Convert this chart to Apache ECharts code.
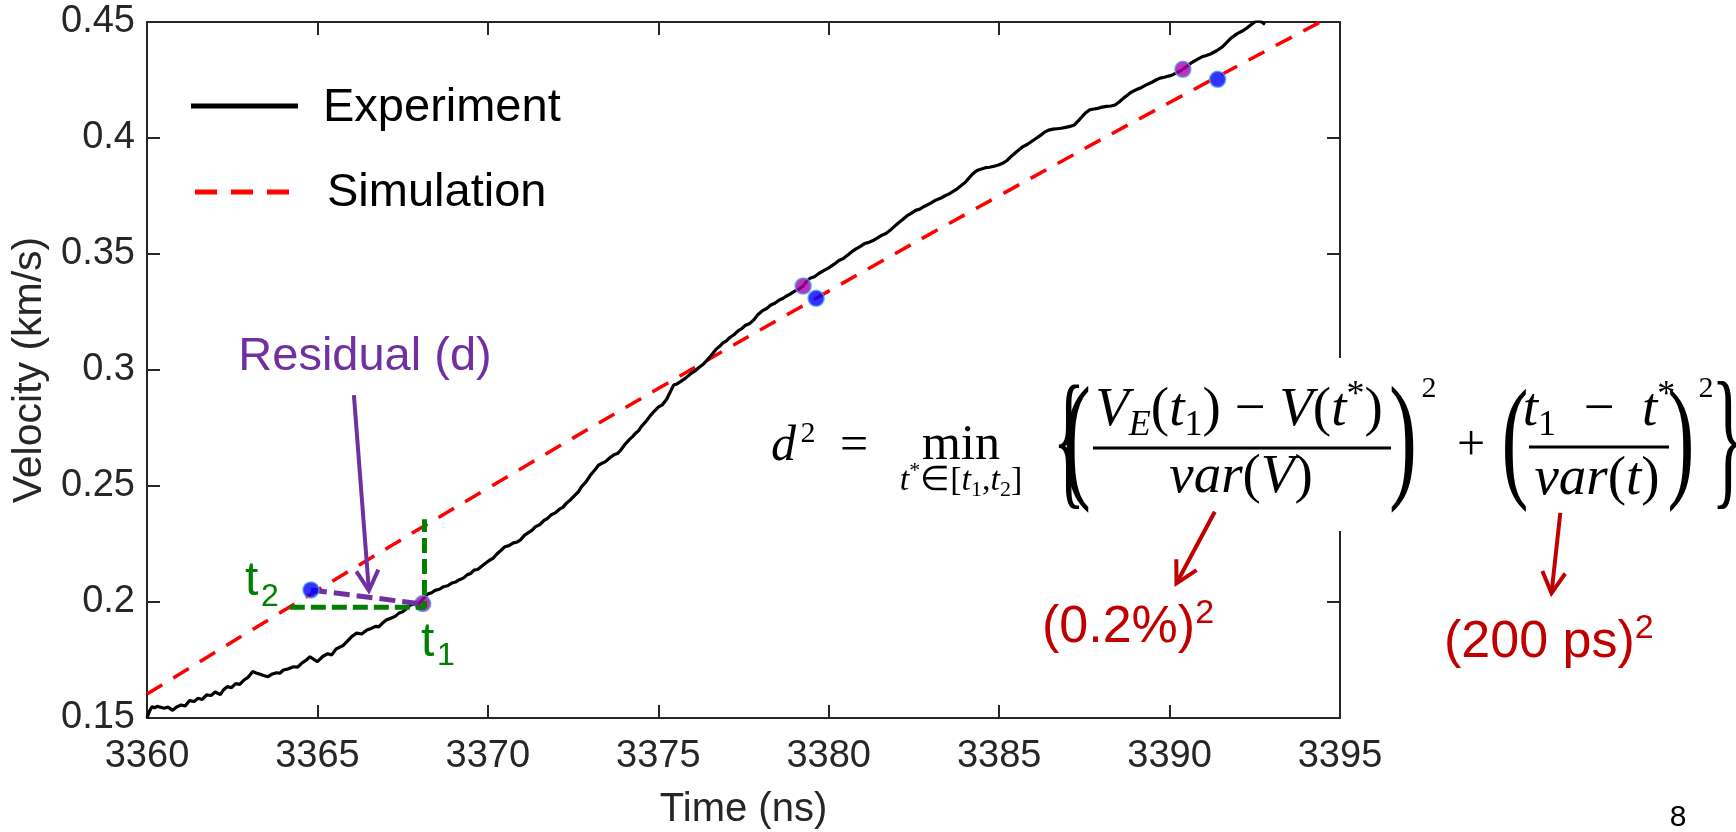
<!DOCTYPE html>
<html><head><meta charset="utf-8">
<script src="https://cdn.jsdelivr.net/npm/echarts@6/dist/echarts.min.js"></script>
<style>html,body{margin:0;padding:0;background:#fff}#c{width:1736px;height:832px}</style>
</head><body><div id="c"></div>
<script>
// ---------------- data ----------------
const xTickRange = [3360, 3395, 5];
const yTickRange = [0.15, 0.45, 0.05];
const experiment = [
[3360.00,0.1500],[3360.08,0.1532],[3360.15,0.1549],[3360.22,0.1544],[3360.30,0.1550],[3360.40,0.1546],[3360.50,0.1542],[3360.62,0.1547],[3360.75,0.1533],[3360.88,0.1548],[3361.00,0.1556],[3361.12,0.1552],[3361.25,0.1575],[3361.38,0.1571],[3361.50,0.1585],[3361.62,0.1580],[3361.75,0.1600],[3361.88,0.1597],[3362.00,0.1612],[3362.15,0.1601],[3362.25,0.1622],[3362.35,0.1635],[3362.48,0.1631],[3362.60,0.1648],[3362.72,0.1645],[3362.85,0.1664],[3362.97,0.1676],[3363.10,0.1700],[3363.20,0.1694],[3363.30,0.1690],[3363.42,0.1683],[3363.55,0.1678],[3363.68,0.1690],[3363.80,0.1695],[3363.90,0.1693],[3364.00,0.1707],[3364.15,0.1712],[3364.30,0.1721],[3364.42,0.1719],[3364.55,0.1738],[3364.66,0.1748],[3364.78,0.1764],[3364.90,0.1752],[3365.00,0.1743],[3365.15,0.1765],[3365.30,0.1777],[3365.42,0.1772],[3365.55,0.1798],[3365.65,0.1805],[3365.75,0.1812],[3365.88,0.1831],[3366.00,0.1850],[3366.15,0.1866],[3366.30,0.1862],[3366.45,0.1879],[3366.58,0.1886],[3366.70,0.1895],[3366.80,0.1893],[3366.90,0.1908],[3367.02,0.1922],[3367.15,0.1930],[3367.28,0.1938],[3367.40,0.1953],[3367.50,0.1958],[3367.60,0.1970],[3367.70,0.1984],[3367.80,0.1992],[3367.90,0.1990],[3368.00,0.1996],[3368.12,0.2018],[3368.25,0.2035],[3368.35,0.2040],[3368.45,0.2050],[3368.58,0.2055],[3368.70,0.2066],[3368.82,0.2070],[3368.95,0.2082],[3369.05,0.2086],[3369.15,0.2095],[3369.28,0.2103],[3369.40,0.2118],[3369.50,0.2123],[3369.60,0.2138],[3369.70,0.2140],[3369.80,0.2152],[3369.92,0.2166],[3370.05,0.2180],[3370.15,0.2188],[3370.25,0.2205],[3370.38,0.2222],[3370.50,0.2238],[3370.62,0.2243],[3370.75,0.2255],[3370.85,0.2258],[3370.95,0.2267],[3371.08,0.2288],[3371.20,0.2300],[3371.30,0.2310],[3371.40,0.2325],[3371.52,0.2333],[3371.65,0.2352],[3371.75,0.2360],[3371.85,0.2375],[3371.98,0.2384],[3372.10,0.2400],[3372.20,0.2408],[3372.30,0.2425],[3372.42,0.2440],[3372.55,0.2460],[3372.65,0.2474],[3372.75,0.2497],[3372.88,0.2518],[3373.00,0.2545],[3373.12,0.2566],[3373.25,0.2590],[3373.35,0.2598],[3373.45,0.2605],[3373.58,0.2622],[3373.70,0.2635],[3373.80,0.2640],[3373.90,0.2655],[3374.02,0.2679],[3374.15,0.2700],[3374.25,0.2714],[3374.35,0.2730],[3374.42,0.2738],[3374.50,0.2756],[3374.62,0.2775],[3374.75,0.2800],[3374.88,0.2822],[3375.00,0.2840],[3375.12,0.2850],[3375.25,0.2875],[3375.35,0.2905],[3375.45,0.2935],[3375.55,0.2940],[3375.65,0.2950],[3375.80,0.2965],[3375.95,0.2984],[3376.08,0.2996],[3376.20,0.3012],[3376.32,0.3025],[3376.45,0.3045],[3376.58,0.3068],[3376.70,0.3090],[3376.80,0.3102],[3376.90,0.3117],[3377.00,0.3126],[3377.10,0.3140],[3377.22,0.3152],[3377.35,0.3170],[3377.45,0.3178],[3377.55,0.3192],[3377.68,0.3200],[3377.80,0.3216],[3377.92,0.3238],[3378.05,0.3255],[3378.18,0.3265],[3378.30,0.3280],[3378.42,0.3288],[3378.55,0.3302],[3378.65,0.3308],[3378.75,0.3318],[3378.88,0.3328],[3379.00,0.3340],[3379.12,0.3348],[3379.25,0.3362],[3379.35,0.3382],[3379.45,0.3395],[3379.58,0.3402],[3379.72,0.3417],[3379.85,0.3428],[3380.00,0.3440],[3380.15,0.3455],[3380.30,0.3472],[3380.42,0.3480],[3380.55,0.3495],[3380.68,0.3510],[3380.80,0.3522],[3380.92,0.3532],[3381.05,0.3545],[3381.18,0.3550],[3381.30,0.3558],[3381.42,0.3568],[3381.55,0.3580],[3381.68,0.3588],[3381.80,0.3602],[3381.92,0.3618],[3382.05,0.3635],[3382.18,0.3650],[3382.30,0.3665],[3382.42,0.3675],[3382.55,0.3688],[3382.68,0.3694],[3382.80,0.3705],[3382.98,0.3718],[3383.15,0.3733],[3383.28,0.3740],[3383.40,0.3750],[3383.52,0.3758],[3383.65,0.3770],[3383.78,0.3782],[3383.90,0.3797],[3384.00,0.3808],[3384.10,0.3825],[3384.22,0.3845],[3384.35,0.3860],[3384.48,0.3866],[3384.60,0.3872],[3384.72,0.3874],[3384.85,0.3878],[3384.98,0.3884],[3385.10,0.3891],[3385.22,0.3902],[3385.35,0.3920],[3385.52,0.3942],[3385.70,0.3963],[3385.82,0.3972],[3385.95,0.3985],[3386.08,0.3998],[3386.20,0.4010],[3386.32,0.4024],[3386.45,0.4034],[3386.58,0.4038],[3386.70,0.4040],[3386.82,0.4042],[3386.95,0.4046],[3387.08,0.4050],[3387.20,0.4056],[3387.32,0.4074],[3387.45,0.4095],[3387.55,0.4110],[3387.65,0.4121],[3387.78,0.4125],[3387.90,0.4128],[3388.02,0.4133],[3388.15,0.4136],[3388.28,0.4138],[3388.40,0.4142],[3388.52,0.4155],[3388.65,0.4172],[3388.75,0.4183],[3388.85,0.4195],[3388.95,0.4203],[3389.05,0.4210],[3389.18,0.4218],[3389.30,0.4228],[3389.45,0.4238],[3389.60,0.4250],[3389.72,0.4258],[3389.85,0.4262],[3389.95,0.4266],[3390.05,0.4270],[3390.22,0.4282],[3390.39,0.4296],[3390.52,0.4310],[3390.65,0.4325],[3390.80,0.4338],[3390.95,0.4350],[3391.08,0.4356],[3391.20,0.4362],[3391.38,0.4376],[3391.55,0.4393],[3391.68,0.4412],[3391.80,0.4430],[3391.90,0.4441],[3392.00,0.4451],[3392.12,0.4460],[3392.25,0.4472],[3392.35,0.4484],[3392.45,0.4495],[3392.52,0.4502],[3392.60,0.4508],[3392.70,0.4500],[3392.80,0.4490]
];
const simTime = [3360, 3365, 3370, 3375, 3380, 3385, 3390, 3395];
const simVel  = [0.1603, 0.2051, 0.2490, 0.2920, 0.3340, 0.3751, 0.4153, 0.4545];
const simDots = [[3364.81, 0.2052], [3379.63, 0.3309], [3391.41, 0.4253]];
const expDots = [[3368.09, 0.1993], [3379.25, 0.3362], [3390.39, 0.4296]];
const greenGuide = [[3364.19, 0.1977], [3368.14, 0.1977], [3368.14, 0.2357]];
const residualLine = [[3364.81, 0.2052], [3368.09, 0.1991]];
const residualArrow = [[3366.07, 0.2892], [3366.51, 0.2049]];

// ---------------- chart ----------------
const chart = echarts.init(document.getElementById('c'), null, {renderer: 'canvas'});
const SANS = '"Liberation Sans", Arial, sans-serif';
const SERIF = '"Liberation Serif", "Times New Roman", serif';
const AX = '#262626';
const simulation = simTime.map((t, i) => [t, simVel[i]]);

function axisCommon(pos, showLabel) {
  return {
    position: pos,
    axisLine: {show: true, onZero: false, lineStyle: {color: AX, width: 2}},
    axisTick: {show: true, inside: true, length: 13, lineStyle: {color: AX, width: 2}},
    splitLine: {show: false},
    axisLabel: {show: showLabel, color: AX, fontSize: 38, fontFamily: SANS}
  };
}
const xb = Object.assign({type: 'value', min: xTickRange[0], max: xTickRange[1], interval: xTickRange[2],
  name: 'Time (ns)', nameLocation: 'middle', nameGap: 72,
  nameTextStyle: {color: AX, fontSize: 40, fontFamily: SANS}}, axisCommon('bottom', true));
xb.axisLabel.margin = 20;
xb.axisLabel.formatter = v => String(v);
const xt = Object.assign({type: 'value', min: xTickRange[0], max: xTickRange[1], interval: xTickRange[2]}, axisCommon('top', false));
const yl = Object.assign({type: 'value', min: yTickRange[0], max: yTickRange[1], interval: yTickRange[2],
  name: 'Velocity (km/s)', nameLocation: 'middle', nameGap: 90,
  nameTextStyle: {color: AX, fontSize: 41, fontFamily: SANS}}, axisCommon('left', true));
yl.axisLabel.margin = 12;
yl.axisLabel.formatter = v => String(+v.toFixed(2));
const yr = Object.assign({type: 'value', min: yTickRange[0], max: yTickRange[1], interval: yTickRange[2]}, axisCommon('right', false));

chart.setOption({
  animation: false,
  backgroundColor: '#fff',
  grid: {left: 147, right: 396, top: 22, bottom: 114, containLabel: false, outerBoundsMode: 'none'},
  xAxis: [xb, xt],
  yAxis: [yl, yr],
  series: [
    {name: 'Simulation', type: 'line', data: simulation, smooth: true, showSymbol: false, z: 2,
      lineStyle: {color: '#ff0000', width: 3.5, type: [18, 13]}},
    {name: 'Experiment', type: 'line', data: experiment, showSymbol: false, z: 3,
      lineStyle: {color: '#000000', width: 3.2}},
    {type: 'scatter', data: expDots, symbolSize: 16, z: 4,
      itemStyle: {color: '#aa00aa', borderColor: '#4aa3f0', borderWidth: 1.5}},
    {type: 'line', data: greenGuide, showSymbol: false, z: 5,
      lineStyle: {color: '#008000', width: 5, type: [15, 6]}},
    {type: 'line', data: residualLine, showSymbol: false, z: 6,
      lineStyle: {color: '#7030a0', width: 5, type: [16, 7]}},
    {type: 'line', data: residualArrow, showSymbol: false, z: 6,
      lineStyle: {color: '#7030a0', width: 4}},
    {type: 'scatter', data: simDots, symbolSize: 16, z: 7,
      itemStyle: {color: '#0000ff', borderColor: '#4aa3f0', borderWidth: 1.5}}
  ]
});

// ---------------- annotations ----------------
function chevron(p0, p1, len, ang) {
  const dx = p0[0] - p1[0], dy = p0[1] - p1[1];
  const n = Math.hypot(dx, dy), ux = dx / n, uy = dy / n;
  const c = Math.cos(ang), s = Math.sin(ang);
  const a = [p1[0] + len * (ux * c - uy * s), p1[1] + len * (ux * s + uy * c)];
  const b = [p1[0] + len * (ux * c + uy * s), p1[1] + len * (-ux * s + uy * c)];
  return [a, p1, b];
}
const pA0 = chart.convertToPixel({gridIndex: 0}, residualArrow[0]);
const pA1 = chart.convertToPixel({gridIndex: 0}, residualArrow[1]);

function T(x, y, text, o) {
  o = o || {};
  const el = {type: 'text', x: x, y: y, z: 60, silent: true,
    style: Object.assign({text: text, fill: o.fill || '#000', fontSize: o.size || 40,
      fontFamily: o.family || SANS, fontStyle: o.italic ? 'italic' : 'normal',
      align: o.align || 'left', verticalAlign: 'middle'}, o.rich ? {rich: o.rich} : {})};
  if (o.sx) el.scaleX = o.sx;
  if (o.sy) el.scaleY = o.sy;
  return el;
}
function L(x1, y1, x2, y2, stroke, w, dash) {
  return {type: 'line', z: 60, silent: true, shape: {x1, y1, x2, y2},
    style: {stroke: stroke, lineWidth: w, lineDash: dash || null}};
}
function P(points, stroke, w) {
  return {type: 'polyline', z: 60, silent: true, shape: {points: points},
    style: {stroke: stroke, lineWidth: w, fill: null, lineJoin: 'miter'}};
}
const RED = '#c00000';
const mathRich = (size, sub) => ({
  i: {fontStyle: 'italic', fontSize: size, lineHeight: Math.round(size * 1.2), fontFamily: SERIF, fill: '#000', verticalAlign: 'middle'},
  n: {fontSize: size, lineHeight: Math.round(size * 1.2), fontFamily: SERIF, fill: '#000', verticalAlign: 'middle'},
  b: {fontSize: sub, lineHeight: sub, fontFamily: SERIF, fill: '#000', verticalAlign: 'bottom'},
  bi: {fontSize: sub, lineHeight: sub, fontFamily: SERIF, fontStyle: 'italic', fill: '#000', verticalAlign: 'bottom'},
  p: {fontSize: sub, lineHeight: sub, fontFamily: SERIF, fill: '#000', verticalAlign: 'top'}
});
const redRich = {
  a: {fontSize: 52, lineHeight: 62, fontFamily: SANS, fill: RED, verticalAlign: 'middle'},
  s: {fontSize: 34, lineHeight: 34, fontFamily: SANS, fill: RED, verticalAlign: 'top'}
};

const graphic = [
  // legend
  L(191, 106, 298, 106, '#000', 5),
  T(323, 108, 'Experiment', {size: 47}),
  L(195, 192, 291, 192, '#ff0000', 5, [22, 14]),
  T(327, 193, 'Simulation', {size: 47}),
  // residual annotation
  T(365, 357, 'Residual (d)', {size: 47, fill: '#7030a0', align: 'center'}),
  P(chevron(pA0, pA1, 23, 0.5), '#7030a0', 4),
  T(245, 582, 't', {size: 48, fill: '#008000'}),
  T(261, 597, '2', {size: 32, fill: '#008000'}),
  T(421, 643, 't', {size: 48, fill: '#008000'}),
  T(437, 656, '1', {size: 32, fill: '#008000'}),
  // formula background
  {type: 'rect', z: 50, silent: true, shape: {x: 760, y: 358, width: 976, height: 173}, style: {fill: '#fff'}},
  // formula
  T(771, 447, 'd', {size: 50, family: SERIF, italic: true}),
  T(808, 434, '2', {size: 30, family: SERIF, align: 'center'}),
  T(854, 447, '=', {size: 50, family: SERIF, align: 'center'}),
  T(961, 446, 'min', {size: 50, family: SERIF, align: 'center'}),
  T(961, 481, '{i|t}{p|*}{n|∈[}{i|t}{b|1}{n|,}{i|t}{b|2}{n|]}', {align: 'center', rich: mathRich(34, 22)}),
  T(1069, 450, '{', {size: 150, family: SERIF, align: 'center', sx: 0.45}),
  T(1077, 446, '(', {size: 140, family: SERIF, align: 'center', sx: 0.6}),
  T(1239, 411, '{i|V}{bi|E}{n|(}{i|t}{b|1}{n|) − }{i|V}{n|(}{i|t}{p|*}{n|)}', {align: 'center', rich: mathRich(55, 36)}),
  L(1093, 448, 1391, 448, '#000', 3),
  T(1241, 478, '{i|var}{n|(}{i|V}{n|)}', {align: 'center', rich: mathRich(55, 36)}),
  T(1403, 446, ')', {size: 140, family: SERIF, align: 'center', sx: 0.6}),
  T(1429, 389, '2', {size: 30, family: SERIF, align: 'center'}),
  T(1471, 447, '+', {size: 50, family: SERIF, align: 'center'}),
  T(1515, 448, '(', {size: 135, family: SERIF, align: 'center', sx: 0.6}),
  T(1599, 411, '{i|t}{b|1}{n|  −  }{i|t}{p|*}', {align: 'center', rich: mathRich(55, 36)}),
  L(1529, 447, 1669, 447, '#000', 3),
  T(1597, 480, '{i|var}{n|(}{i|t}{n|)}', {align: 'center', rich: mathRich(55, 36)}),
  T(1681, 448, ')', {size: 135, family: SERIF, align: 'center', sx: 0.6}),
  T(1706, 389, '2', {size: 30, family: SERIF, align: 'center'}),
  T(1728, 447, '}', {size: 155, family: SERIF, align: 'center', sx: 0.45}),
  // red arrows and labels
  L(1214.8, 511.7, 1176.5, 583.3, RED, 4),
  P(chevron([1214.8, 511.7], [1176.5, 583.3], 24, 0.5), RED, 4),
  L(1560.3, 512.9, 1551.5, 593.2, RED, 4),
  P(chevron([1560.3, 512.9], [1551.5, 593.2], 24, 0.5), RED, 4),
  T(1042, 628, '{a|(0.2%)}{s|2}', {rich: redRich}),
  T(1444, 643, '{a|(200 ps)}{s|2}', {rich: redRich}),
  // page number
  T(1678, 818, '8', {size: 30, align: 'center'})
];
chart.setOption({graphic: graphic});
</script>
</body></html>
